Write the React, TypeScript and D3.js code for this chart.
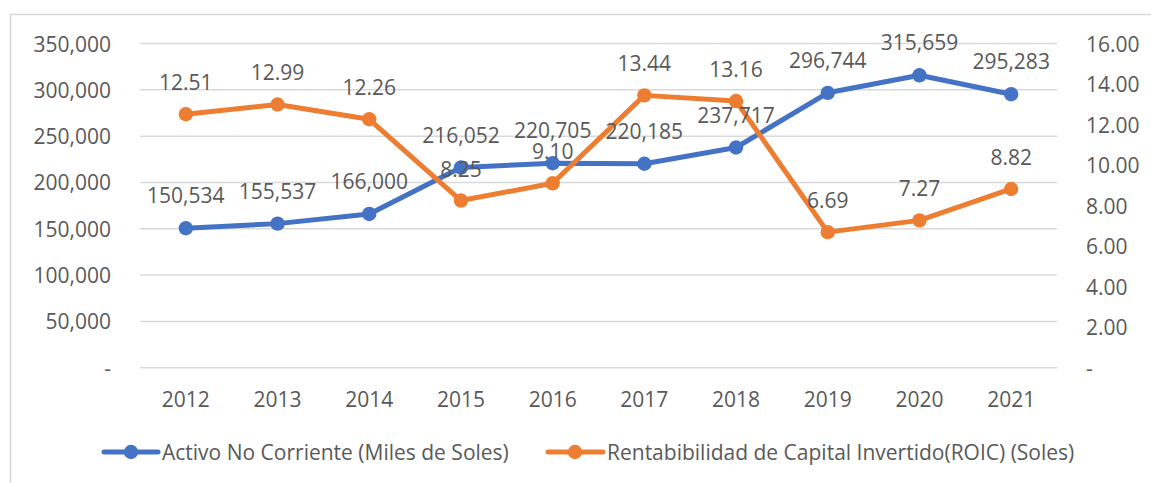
import React from "react";
import * as d3 from "d3";

const years = ["2012", "2013", "2014", "2015", "2016", "2017", "2018", "2019", "2020", "2021"];
const activo = [150534, 155537, 166000, 216052, 220705, 220185, 237717, 296744, 315659, 295283];
const roic = [12.51, 12.99, 12.26, 8.25, 9.1, 13.44, 13.16, 6.69, 7.27, 8.82];
const leftTicks = [0, 50000, 100000, 150000, 200000, 250000, 300000, 350000];
const rightTicks = [0, 2, 4, 6, 8, 10, 12, 14, 16];
const seriesNames = ["Activo No Corriente (Miles de Soles)", "Rentabibilidad de Capital Invertido(ROIC) (Soles)"];

const BLUE = "#4472C4";
const ORANGE = "#ED7D31";
const TEXT = "#595959";
const GRID = "#D9D9D9";
const FONT = "'Open Sans', sans-serif";

export default function App() {
  const W = 1151, H = 483;
  const left = 140, right = 1057, top = 43.5, bottom = 367.7;
  const x = d3.scaleBand<string>().domain(years).range([left, right]);
  const yL = d3.scaleLinear().domain([0, 350000]).range([bottom, top]);
  const yR = d3.scaleLinear().domain([0, 16]).range([bottom, top]);
  const cx = (y: string) => (x(y) as number) + x.bandwidth() / 2;
  const fmtL = (v: number) => (v === 0 ? "-" : d3.format(",")(v));
  const fmtR = (v: number) => (v === 0 ? "-" : d3.format(".2f")(v));
  const lineL = d3.line<number>().x((_, i) => cx(years[i])).y((d) => yL(d));
  const lineR = d3.line<number>().x((_, i) => cx(years[i])).y((d) => yR(d));
  const fs = 21;

  return (
    <svg width={W} height={H} style={{ position: "absolute", left: 0, top: 0, background: "#fff" }} fontFamily={FONT}>
      <rect x={10.5} y={14.5} width={W + 10} height={H + 10} fill="#fff" stroke={GRID} strokeWidth={1.5} />
      {leftTicks.map((t) => (
        <line key={"g" + t} x1={left} x2={right} y1={yL(t)} y2={yL(t)} stroke={GRID} strokeWidth={1.5} />
      ))}
      {leftTicks.map((t) => (
        <text key={"l" + t} x={111} y={yL(t)} textAnchor="end" dominantBaseline="central" fontSize={fs} fill={TEXT}>
          {fmtL(t)}
        </text>
      ))}
      {rightTicks.map((t) => (
        <text key={"r" + t} x={1086} y={yR(t)} textAnchor="start" dominantBaseline="central" fontSize={fs} fill={TEXT}>
          {fmtR(t)}
        </text>
      ))}
      {years.map((y) => (
        <text key={"x" + y} x={cx(y)} y={399} textAnchor="middle" dominantBaseline="central" fontSize={fs} fill={TEXT}>
          {y}
        </text>
      ))}
      <path d={lineL(activo) as string} fill="none" stroke={BLUE} strokeWidth={5} strokeLinejoin="round" strokeLinecap="round" />
      {activo.map((v, i) => (
        <circle key={"bc" + i} cx={cx(years[i])} cy={yL(v)} r={7.2} fill={BLUE} />
      ))}
      <path d={lineR(roic) as string} fill="none" stroke={ORANGE} strokeWidth={5} strokeLinejoin="round" strokeLinecap="round" />
      {roic.map((v, i) => (
        <circle key={"oc" + i} cx={cx(years[i])} cy={yR(v)} r={7.2} fill={ORANGE} />
      ))}
      {activo.map((v, i) => (
        <text key={"bl" + i} x={cx(years[i])} y={yL(v) - 33} textAnchor="middle" dominantBaseline="central" fontSize={fs} fill={TEXT}>
          {d3.format(",")(v)}
        </text>
      ))}
      {roic.map((v, i) => (
        <text key={"ol" + i} x={cx(years[i])} y={yR(v) - 32} textAnchor="middle" dominantBaseline="central" fontSize={fs} fill={TEXT}>
          {d3.format(".2f")(v)}
        </text>
      ))}
      {/* legend */}
      <line x1={104} x2={158} y1={452} y2={452} stroke={BLUE} strokeWidth={5} strokeLinecap="round" />
      <circle cx={131} cy={452} r={7.2} fill={BLUE} />
      <text x={162} y={452} dominantBaseline="central" fontSize={fs} fill={TEXT}>{seriesNames[0]}</text>
      <line x1={548} x2={603} y1={452} y2={452} stroke={ORANGE} strokeWidth={5} strokeLinecap="round" />
      <circle cx={575} cy={452} r={7.2} fill={ORANGE} />
      <text x={607} y={452} dominantBaseline="central" fontSize={fs} fill={TEXT}>{seriesNames[1]}</text>
    </svg>
  );
}
